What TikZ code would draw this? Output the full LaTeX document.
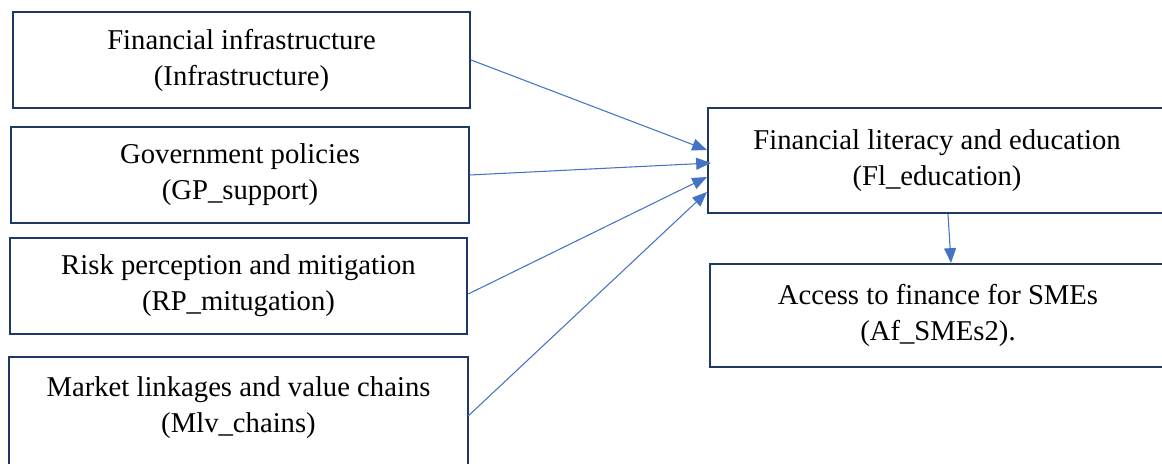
\documentclass[tikz,border=0pt]{standalone}
\usepackage{fontspec}
\setmainfont{Liberation Serif}
\usetikzlibrary{arrows.meta,calc}
\definecolor{boxblue}{HTML}{203864}
\definecolor{arrblue}{HTML}{4472C4}

\begin{document}
\begin{tikzpicture}[x=0.025cm,y=-0.025cm,
    factor/.style={draw=boxblue,line width=1.4pt,inner sep=0pt,align=center,
        minimum width=11.43cm,minimum height=2.4cm,
        font=\fontsize{20.4}{25.6}\selectfont},
    outcome/.style={factor,minimum width=11.45cm},
    link/.style={draw=arrblue,line width=0.75pt,-{Triangle[length=10.5pt,width=8.5pt]}}]

  \useasboundingbox (0,0) rectangle (1162,463); % 画布范围

  % 左侧四个因素框
  \node[factor] (infra) at (241.5,60) {Financial infrastructure\\(Infrastructure)};
  \node[factor] (gp) at (240,175) {Government policies\\(GP\_support)};
  \node[factor] (rp) at (238.5,286) {Risk perception and mitigation\\(RP\_mitugation)};
  \node[factor,draw=none,minimum height=2.5cm] (mlv) at (238.5,408) {Market linkages and value chains\\(Mlv\_chains)};
  \draw[boxblue,line width=1.4pt] ([yshift=-20pt]mlv.south west) -- (mlv.north west)
      -- (mlv.north east) -- ([yshift=-20pt]mlv.south east); % 底边在画面外

  % 右侧两个结果框
  \node[outcome,minimum height=2.63cm] (fl) at (937,160.5) {Financial literacy and education\\(Fl\_education)};
  \node[outcome,minimum height=2.58cm,minimum width=11.4cm] (af) at (938,315.5) {Access to finance for SMEs\\(Af\_SMEs2).};

  % 箭头
  \draw[link] (infra.east) -- ($(fl.west)+(0,-10.5)$);
  \draw[link] (gp.east) -- ($(fl.west)+(4,2.5)$);
  \draw[link] (rp.-2.3) -- ($(fl.west)+(0,16.5)$);
  \draw[link] (mlv.-2.3) -- ($(fl.west)+(0,31.5)$);
  \draw[link] ($(fl.south)+(11,0)$) -- ($(af.north)+(13,0)$); % 向下箭头

\end{tikzpicture}
\end{document}
